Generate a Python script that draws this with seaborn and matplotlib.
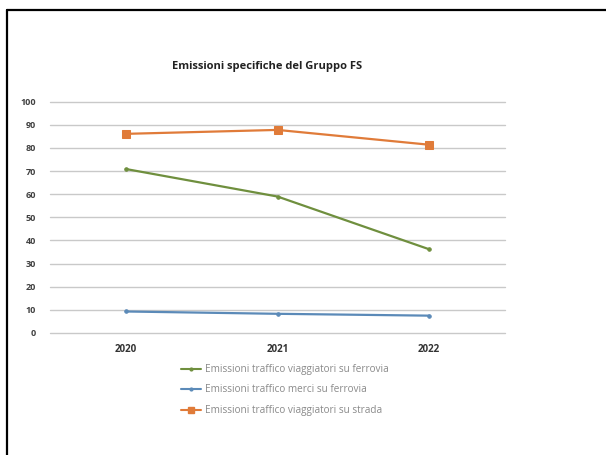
import matplotlib
matplotlib.use("Agg")
import matplotlib.pyplot as plt
from matplotlib.lines import Line2D
import seaborn as sns
import pandas as pd

years = ["2020", "2021", "2022"]
viaggiatori_ferrovia = [70.9, 59.0, 36.2]
merci_ferrovia = [9.3, 8.3, 7.5]
viaggiatori_strada = [86.1, 87.8, 81.4]
labels = ["Emissioni traffico viaggiatori su ferrovia",
          "Emissioni traffico merci su ferrovia",
          "Emissioni traffico viaggiatori su strada"]
title = "Emissioni specifiche del Gruppo FS"
yticks = [0, 10, 20, 30, 40, 50, 60, 70, 80, 90, 100]

colors = ["#6f8f3e", "#5b8ab8", "#e07b39"]
markers = ["o", "o", "s"]
msizes = [2.5, 2.5, 5.5]

sns.set_style("white")
plt.rcParams['font.family'] = ['Open Sans', 'DejaVu Sans']

fig = plt.figure(figsize=(6.06, 4.55), dpi=100)
ax = fig.add_axes([50/606, 1 - 333/455, 455/606, (333 - 101.7)/455])

series = [viaggiatori_ferrovia, merci_ferrovia, viaggiatori_strada]
for vals, lab, c, m, ms in zip(series, labels, colors, markers, msizes):
    df = pd.DataFrame({"year": years, "value": vals})
    sns.lineplot(data=df, x="year", y="value", ax=ax, color=c, marker=m,
                 markersize=ms, markeredgecolor=c, linewidth=1.6, label=lab)

ax.set_ylim(0, 100)
ax.set_xlim(-0.5, 2.5)
ax.set_yticks(yticks)
ax.set_yticklabels([str(v) for v in yticks])
ax.yaxis.grid(True, color="#c9c9c9", linewidth=1)
for gl in ax.get_ygridlines():
    gl.set_clip_on(False)
ax.set_axisbelow(True)
for s in ax.spines.values():
    s.set_visible(False)
ax.tick_params(axis="both", length=0)
ax.tick_params(axis="y", labelsize=6.5, labelcolor="#404040", pad=10)
ax.tick_params(axis="x", labelsize=7, labelcolor="#333333", pad=8)
for t in ax.get_xticklabels() + ax.get_yticklabels():
    t.set_fontweight("bold")
ax.set_xlabel("")
ax.set_ylabel("")
ax.get_legend().remove()

fig.text(267/606, 1 - 67/455, title, ha="center", va="center",
         fontsize=8, fontweight="bold", color="#222222")

handles = [Line2D([0], [0], color=c, marker=m, markersize=ms * 0.8,
                  linewidth=1.5) for c, m, ms in zip(colors, markers, msizes)]
fig.legend(handles, labels, loc="upper left",
           bbox_to_anchor=(172/606, 1 - 355/455), frameon=False,
           fontsize=7.2, labelcolor="#8a8a8a", handlelength=2.0,
           labelspacing=0.95, handletextpad=0.4)

fig.add_artist(Line2D([7/606, 7/606], [0, 1 - 10/455], color="black",
                      linewidth=1.6, transform=fig.transFigure))
fig.add_artist(Line2D([7/606, 1], [1 - 10/455, 1 - 10/455], color="black",
                      linewidth=1.6, transform=fig.transFigure))

fig.savefig("out.png", dpi=100)
